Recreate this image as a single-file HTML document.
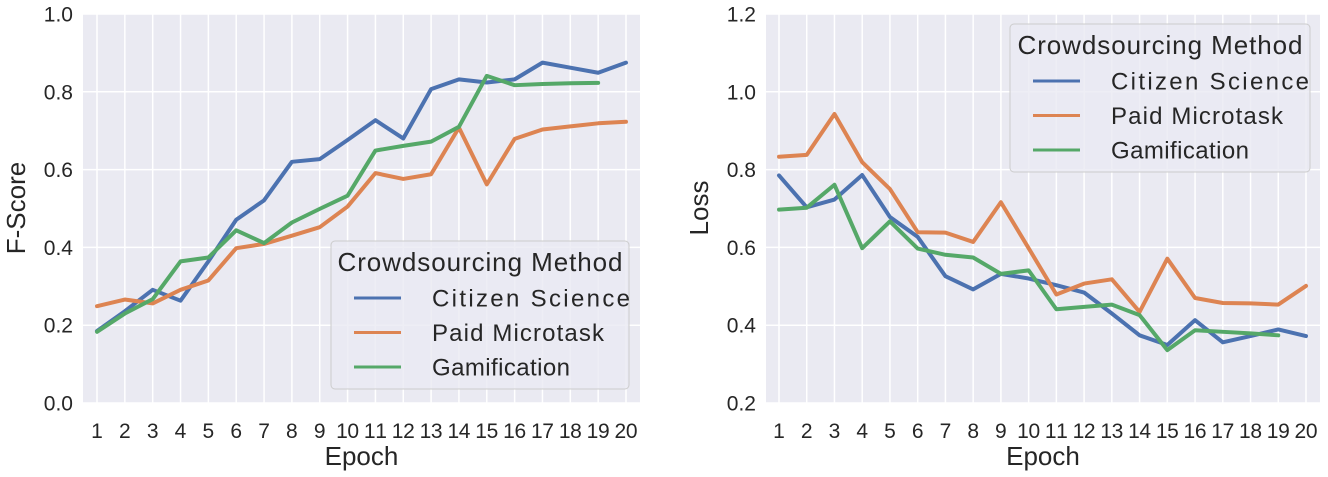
<!DOCTYPE html>
<html><head><meta charset="utf-8"><style>
body{margin:0;background:#fff;}
svg text{font-family:"Liberation Sans",sans-serif;fill:#262626;}
</style></head><body>
<svg id="s" width="1328" height="472" xmlns="http://www.w3.org/2000/svg"></svg>
<script>
const epochs=[1,2,3,4,5,6,7,8,9,10,11,12,13,14,15,16,17,18,19,20];
const seriesNames=["Citizen Science","Paid Microtask","Gamification"];
const colors=["#4c72b0","#dd8452","#55a868"];
const fCitizen=[0.185,0.236,0.291,0.263,0.364,0.471,0.521,0.62,0.627,0.676,0.727,0.68,0.807,0.832,0.824,0.832,0.875,0.862,0.849,0.875];
const fPaid=[0.249,0.266,0.256,0.291,0.315,0.398,0.409,0.43,0.452,0.505,0.591,0.576,0.588,0.708,0.562,0.679,0.703,0.711,0.719,0.723];
const fGame=[0.183,0.23,0.267,0.364,0.374,0.444,0.411,0.464,0.499,0.533,0.649,0.661,0.672,0.71,0.841,0.817,0.82,0.822,0.823];
const lCitizen=[0.785,0.703,0.723,0.786,0.678,0.627,0.526,0.492,0.532,0.52,0.503,0.484,0.43,0.374,0.349,0.413,0.356,0.372,0.389,0.372];
const lPaid=[0.833,0.838,0.943,0.819,0.75,0.639,0.638,0.614,0.716,0.598,0.479,0.507,0.518,0.434,0.571,0.47,0.457,0.456,0.453,0.501];
const lGame=[0.697,0.702,0.761,0.598,0.667,0.597,0.581,0.574,0.532,0.541,0.441,0.447,0.453,0.426,0.336,0.387,0.383,0.379,0.374];
const fTicks=["0.0","0.2","0.4","0.6","0.8","1.0"];
const lTicks=["0.2","0.4","0.6","0.8","1.0","1.2"];
const entryWidths=[198,172,138];
const svg=document.getElementById('s');
const NS="http://www.w3.org/2000/svg";
function mk(tag,attrs,parent){const e=document.createElementNS(NS,tag);for(const k in attrs)e.setAttribute(k,attrs[k]);(parent||svg).appendChild(e);return e;}
function chart(o){
  const g=mk('g',{});
  
  
  const bg=mk('rect',{x:o.left,y:14,width:o.right-o.left,height:389,fill:'#eaeaf2'},g);
  
  
  const X=e=>o.x1+(e-1)*(o.x20-o.x1)/19;
  const Y=v=>403-(v-o.ymin)/(o.ymax-o.ymin)*389;
  o.ticks.forEach(t=>{const v=parseFloat(t);const y=Y(v);
    const l=mk('line',{x1:o.left,x2:o.right,y1:y,y2:y,stroke:'#fff','stroke-width':1.5},g);
    
    
    const tx=mk('text',{x:o.left-10,y:y+7.5,'text-anchor':'end','font-size':21},g);tx.textContent=t;
    
    
  });
  epochs.forEach(e=>{const x=X(e);
    const l=mk('line',{x1:x,x2:x,y1:14,y2:403,stroke:'#fff','stroke-width':1.5},g);
    
    
    const tx=mk('text',{x:x,y:438,'text-anchor':'middle','font-size':21},g);tx.textContent=e;
    if(e>=10) tx.setAttribute('textLength',23);
    
    
  });
  o.data.forEach((d,i)=>{
    const p=mk('polyline',{points:d.map((v,j)=>X(epochs[j])+','+Y(v)).join(' '),fill:'none',stroke:colors[i],'stroke-width':4,'stroke-linejoin':'round','stroke-linecap':'round'},g);
    
    
  });
  const xl=mk('text',{x:(o.left+o.right)/2,y:465,'text-anchor':'middle','font-size':26},g);xl.textContent='Epoch';
  
  
  const yl=mk('text',{x:0,y:0,'text-anchor':'middle','font-size':26,transform:`translate(${o.left-58},208) rotate(-90)`},g);yl.textContent=o.ylabel;
  
  
  const L=o.leg;
  const lg=mk('g',{},g);
  
  
  mk('rect',{x:L.x,y:L.y,width:L.w,height:148,rx:4,fill:'#eaeaf2','fill-opacity':0.8,stroke:'#cccccc'},lg);
  const tt=mk('text',{x:L.x+L.w/2,y:L.y+30,'text-anchor':'middle','font-size':26,textLength:285},lg);tt.textContent='Crowdsourcing Method';
  
  
  seriesNames.forEach((n,i)=>{const yy=L.y+57+i*34.5;
    const ln=mk('line',{x1:L.x+23,x2:L.x+70,y1:yy,y2:yy,stroke:colors[i],'stroke-width':3},lg);
    
    
    const t=mk('text',{x:L.x+101,y:yy+8.5,'font-size':24,textLength:entryWidths[i]},lg);t.textContent=n;
    
    
  });
}
chart({name:'f-score-chart',left:83,right:640,x1:97,x20:626,ymin:0,ymax:1.0,ticks:fTicks,ylabel:'F-Score',data:[fCitizen,fPaid,fGame],leg:{x:331,y:241,w:298}});
chart({name:'loss-chart',left:766,right:1320,x1:779,x20:1306,ymin:0.2,ymax:1.2,ticks:lTicks,ylabel:'Loss',data:[lCitizen,lPaid,lGame],leg:{x:1010,y:24,w:300}});
</script>
</body></html>
